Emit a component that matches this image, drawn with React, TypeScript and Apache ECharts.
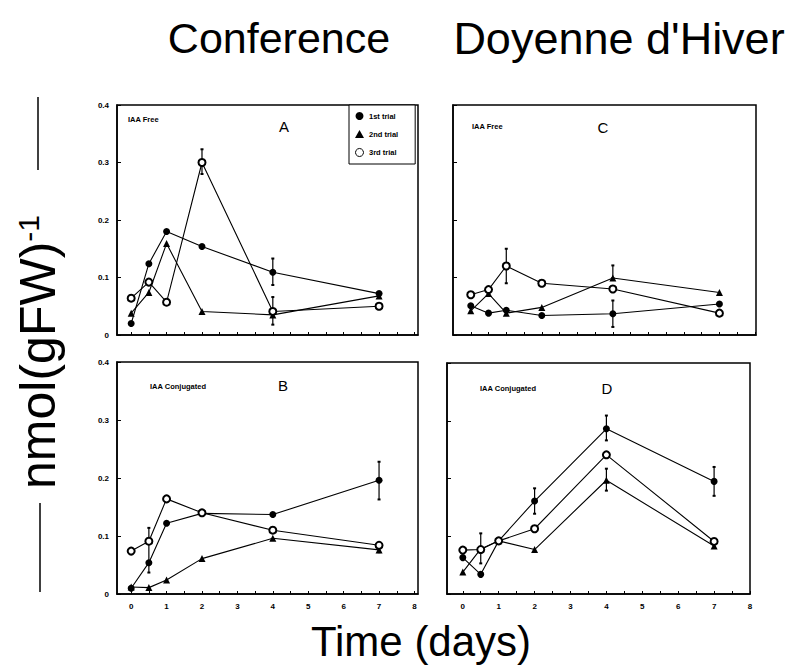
import React, { useEffect, useRef } from 'react';
import * as echarts from 'echarts';

// ---- data ----
const days = [0, 0.5, 1, 2, 4, 7];
const trialNames = ['1st trial', '2nd trial', '3rd trial'];
const yTicks = [0, 0.1, 0.2, 0.3, 0.4];
const yTickLabels = ['0', '0.1', '0.2', '0.3', '0.4'];
const xTickLabels = [0, 1, 2, 3, 4, 5, 6, 7, 8];
const xMinorTicks = [0, 0.5, 1, 1.5, 2, 2.5, 3, 3.5, 4, 4.5, 5, 5.5, 6, 6.5, 7, 7.5, 8];

const cultivars = ['Conference', "Doyenne d'Hiver"];
const panelLetters = ['A', 'B', 'C', 'D'];
const panelTitles = ['IAA Free', 'IAA Conjugated', 'IAA Free', 'IAA Conjugated'];

// Conference, IAA free (A)
const trial1A = [0.02, 0.124, 0.18, 0.154, 0.109, 0.072];
const trial2A = [0.038, 0.074, 0.159, 0.041, 0.035, 0.068];
const trial3A = [0.064, 0.092, 0.057, 0.3, 0.041, 0.05];
const errA = [[2, 0.28, 0.323], [4, 0.087, 0.133], [4, 0.018, 0.066]];

// Conference, IAA conjugated (B)
const trial1B = [0.01, 0.054, 0.122, 0.139, 0.137, 0.196];
const trial2B = [0.012, 0.011, 0.024, 0.061, 0.096, 0.076];
const trial3B = [0.074, 0.091, 0.164, 0.14, 0.11, 0.084];
const errB = [[0.5, 0.037, 0.114], [7, 0.163, 0.228], [7, 0.072, 0.088]];

// Doyenne d'Hiver, IAA free (C)
const trial1C = [0.051, 0.038, 0.043, 0.034, 0.037, 0.054];
const trial2C = [0.042, 0.072, 0.038, 0.048, 0.099, 0.074];
const trial3C = [0.07, 0.079, 0.12, 0.09, 0.08, 0.038];
const errC = [[1, 0.09, 0.15], [4, 0.099, 0.121], [4, 0.014, 0.06]];

// Doyenne d'Hiver, IAA conjugated (D)
const trial1D = [0.063, 0.034, 0.092, 0.161, 0.286, 0.195];
const trial2D = [0.038, 0.078, 0.092, 0.077, 0.197, 0.083];
const trial3D = [0.076, 0.077, 0.092, 0.113, 0.241, 0.091];
const errD = [[0.5, 0.053, 0.105], [2, 0.139, 0.183], [4, 0.266, 0.309], [4, 0.179, 0.217], [7, 0.17, 0.22]];

const panels = [
  { trials: [trial1A, trial2A, trial3A], err: errA },
  { trials: [trial1B, trial2B, trial3B], err: errB },
  { trials: [trial1C, trial2C, trial3C], err: errC },
  { trials: [trial1D, trial2D, trial3D], err: errD },
];

const FONT = 'Liberation Sans, Arial, Helvetica, sans-serif';

export default function App() {
  const ref = useRef<HTMLDivElement>(null);

  useEffect(() => {
    if (!ref.current) return;
    const chart = echarts.init(ref.current, undefined, { renderer: 'svg' });

    const grids = [
      { left: 117, top: 105, width: 301, height: 230 },
      { left: 117, top: 362, width: 301, height: 232 },
      { left: 453, top: 105, width: 303, height: 230 },
      { left: 447, top: 363, width: 303, height: 231 },
    ];
    const xRanges = [
      [-0.4, 8.1],
      [-0.4, 8.1],
      [-0.5, 8.03],
      [-0.44, 8.0],
    ];

    const symbols = ['circle', 'triangle', 'emptyCircle'];
    const symbolSizes = [7, 7, 7];

    const series: any[] = [];
    panels.forEach((p, gi) => {
      p.trials.forEach((vals, ti) => {
        series.push({
          type: 'line',
          name: trialNames[ti],
          xAxisIndex: gi,
          yAxisIndex: gi,
          data: days.map((d, i) => [d, vals[i]]),
          symbol: symbols[ti],
          symbolSize: symbolSizes[ti],
          showSymbol: true,
          lineStyle: { color: '#000', width: 1.1 },
          itemStyle: { color: '#000', borderColor: '#000', borderWidth: ti === 2 ? 1 : 0 },
          z: 3 + ti,
        });
      });
      series.push({
        type: 'custom',
        name: 'err' + gi,
        xAxisIndex: gi,
        yAxisIndex: gi,
        data: p.err,
        encode: { x: 0, y: [1, 2] },
        z: 2,
        renderItem: (params: any, api: any) => {
          const x = api.value(0);
          const lo = api.coord([x, api.value(1)]);
          const hi = api.coord([x, api.value(2)]);
          const st = { stroke: '#000', lineWidth: 1.2 };
          return {
            type: 'group',
            children: [
              { type: 'line', shape: { x1: lo[0], y1: lo[1], x2: hi[0], y2: hi[1] }, style: st },
              { type: 'line', shape: { x1: lo[0] - 1.5, y1: lo[1], x2: lo[0] + 1.5, y2: lo[1] }, style: { stroke: '#000', lineWidth: 2 } },
              { type: 'line', shape: { x1: hi[0] - 1.5, y1: hi[1], x2: hi[0] + 1.5, y2: hi[1] }, style: { stroke: '#000', lineWidth: 2 } },
            ],
          };
        },
      });
    });

    const xAxis = grids.map((_, gi) => ({
      type: 'value',
      gridIndex: gi,
      min: xRanges[gi][0],
      max: xRanges[gi][1],
      axisLine: { show: true, onZero: false, lineStyle: { color: '#000', width: 1.5 } },
      axisTick: { show: true, inside: true, length: 3, customValues: xMinorTicks, lineStyle: { color: '#000', width: 1 } },
      axisLabel: {
        show: gi === 1 || gi === 3,
        customValues: xTickLabels,
        color: '#000',
        fontSize: 8,
        fontWeight: 'bold',
        fontFamily: FONT,
        margin: 8,
      },
      splitLine: { show: false },
    }));

    const yAxis = grids.map((_, gi) => ({
      type: 'value',
      gridIndex: gi,
      min: 0,
      max: 0.4,
      interval: 0.1,
      axisLine: { show: true, onZero: false, lineStyle: { color: '#000', width: 1.5 } },
      axisTick: { show: true, inside: true, length: 4, lineStyle: { color: '#000', width: 1 } },
      axisLabel: {
        show: gi === 0 || gi === 1,
        color: '#000',
        fontSize: 8,
        fontWeight: 'bold',
        fontFamily: FONT,
        margin: 8,
        formatter: (v: number) => {
          const idx = yTicks.findIndex((t) => Math.abs(t - v) < 1e-6);
          return idx >= 0 ? yTickLabels[idx] : '';
        },
      },
      splitLine: { show: false },
    }));

    const letterPos = [
      [284, 126], [283, 385], [603, 127], [607, 388],
    ];
    const subPos = [
      [128, 119], [150, 386], [472, 126], [480, 388],
    ];

    const graphic: any[] = [
      { type: 'text', x: 279, y: 38, style: { text: cultivars[0], fontSize: 43, fontFamily: FONT, fill: '#000', textAlign: 'center', textVerticalAlign: 'middle' } },
      { type: 'text', x: 619, y: 38, style: { text: cultivars[1], fontSize: 45, fontFamily: FONT, fill: '#000', textAlign: 'center', textVerticalAlign: 'middle' } },
      { type: 'text', x: 421, y: 641, style: { text: 'Time (days)', fontSize: 42, fontFamily: FONT, fill: '#000', textAlign: 'center', textVerticalAlign: 'middle' } },
      {
        type: 'text', x: 38, y: 352, rotation: Math.PI / 2,
        style: {
          text: '{a|nmol(gFW)}{b|-1}',
          textAlign: 'center', textVerticalAlign: 'middle',
          fill: '#000',
          rich: {
            a: { fontSize: 50, fontFamily: FONT, fill: '#000' },
            b: { fontSize: 30, fontFamily: FONT, fill: '#000', verticalAlign: 'top' },
          },
        },
      },
      { type: 'line', shape: { x1: 38, y1: 97, x2: 38, y2: 170 }, style: { stroke: '#000', lineWidth: 1.5 } },
      { type: 'line', shape: { x1: 40, y1: 503, x2: 40, y2: 592 }, style: { stroke: '#000', lineWidth: 1.5 } },
    ];
    panelLetters.forEach((l, i) => {
      graphic.push({ type: 'text', x: letterPos[i][0], y: letterPos[i][1], style: { text: l, fontSize: 15, fontFamily: FONT, fill: '#000', textAlign: 'center', textVerticalAlign: 'middle' } });
      graphic.push({ type: 'text', x: subPos[i][0], y: subPos[i][1], style: { text: panelTitles[i], fontSize: 7.5, fontWeight: 'bold', fontFamily: FONT, fill: '#000', textAlign: 'left', textVerticalAlign: 'middle' } });
    });

    chart.setOption({
      animation: false,
      backgroundColor: '#fff',
      grid: grids.map((g) => ({ ...g, show: true, borderColor: '#000', borderWidth: 1.5, backgroundColor: 'transparent' })),
      xAxis,
      yAxis,
      legend: {
        show: true,
        left: 349,
        top: 105,
        orient: 'vertical',
        itemWidth: 9,
        itemHeight: 8,
        itemGap: 10,
        padding: [7, 17, 7, 6],
        borderColor: '#000',
        borderWidth: 1,
        backgroundColor: '#fff',
        textStyle: { fontSize: 7.5, fontWeight: 'bold', fontFamily: FONT, color: '#000' },
        data: [
          { name: trialNames[0], icon: 'circle', itemStyle: { color: '#000' } },
          { name: trialNames[1], icon: 'triangle', itemStyle: { color: '#000' } },
          { name: trialNames[2], icon: 'circle', itemStyle: { color: '#fff', borderColor: '#000', borderWidth: 1 } },
        ],
      },
      series,
      graphic,
    });

    return () => chart.dispose();
  }, []);

  return (
    <div
      ref={ref}
      style={{ position: 'fixed', left: 0, top: 0, width: 790, height: 669, background: '#fff' }}
    />
  );
}
